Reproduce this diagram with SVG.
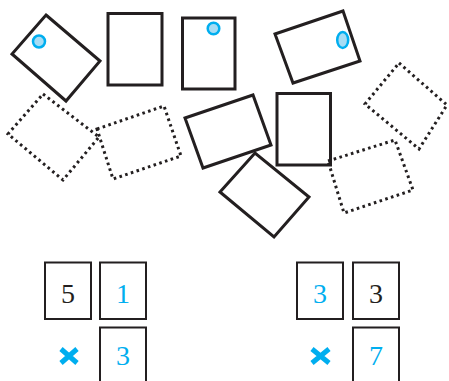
<svg xmlns="http://www.w3.org/2000/svg" width="449" height="381" viewBox="0 0 449 381">
<style>
.solid{fill:none;stroke:#231f20;stroke-width:3;stroke-linejoin:miter}
.dot{fill:none;stroke:#231f20;stroke-width:3;stroke-dasharray:2.6 3.4}
.hole{fill:#a6dcf4;stroke:#00aeef;stroke-width:2.5}
.box{fill:#fff;stroke:#231f20;stroke-width:2}
.num{font-family:"Liberation Serif","DejaVu Serif",serif;font-size:28px;text-anchor:middle}
.k{fill:#231f20}
.b{fill:#00aeef}
.x{stroke:#00aeef;stroke-width:5;fill:none}
</style>
<rect width="449" height="381" fill="#fff"/>
<g id="card1"><polygon class="solid" points="46,15 100,61 66,101 12,54"/><circle class="hole" cx="39" cy="41.5" r="6"/></g>
<g id="card2"><rect class="solid" x="108" y="13.5" width="54" height="71.5"/></g>
<g id="card3"><rect class="solid" x="182.5" y="18" width="52.5" height="71"/><circle class="hole" cx="213.5" cy="28.5" r="5.8"/></g>
<g id="card4"><polygon class="solid" points="275,34 343,11 360,61 293,83"/><ellipse class="hole" cx="342.7" cy="40" rx="5.5" ry="8"/></g>
<g id="card5"><polygon class="dot" points="399,63 447,105 419,149 365,104"/></g>
<g id="card6"><polygon class="dot" points="43,94 99,137 63,180 8,134"/></g>
<g id="card7"><polygon class="dot" points="97,129 164,106 181,156 113,179"/></g>
<g id="card8"><polygon class="solid" points="185,118 253,95 271,145 203,168"/></g>
<g id="card9"><rect class="solid" x="277" y="93.5" width="53.5" height="71.5"/></g>
<g id="card10"><polygon class="solid" points="220,192 255,153 309,197 274,237"/></g>
<g id="card11"><polygon class="dot" points="328,161 395,140 413,190 344,213"/></g>
<g id="eq1">
<rect class="box" x="45" y="262.5" width="46" height="56.5"/><text class="num k" x="68" y="303">5</text>
<rect class="box" x="100" y="262.5" width="46" height="56.5"/><text class="num b" x="123" y="303">1</text>
<rect class="box" x="100" y="327.5" width="46" height="60"/><text class="num b" x="123" y="365">3</text>
<path class="x" d="M61,349 L77,363 M77,349 L61,363"/>
</g>
<g id="eq2">
<rect class="box" x="297" y="262.5" width="46" height="56.5"/><text class="num b" x="320" y="303">3</text>
<rect class="box" x="353" y="262.5" width="46" height="56.5"/><text class="num k" x="376" y="303">3</text>
<rect class="box" x="353" y="327.5" width="46" height="60"/><text class="num b" x="376" y="365">7</text>
<path class="x" d="M312,349 L329,363 M329,349 L312,363"/>
</g>
<g id="connectors"/>
</svg>
